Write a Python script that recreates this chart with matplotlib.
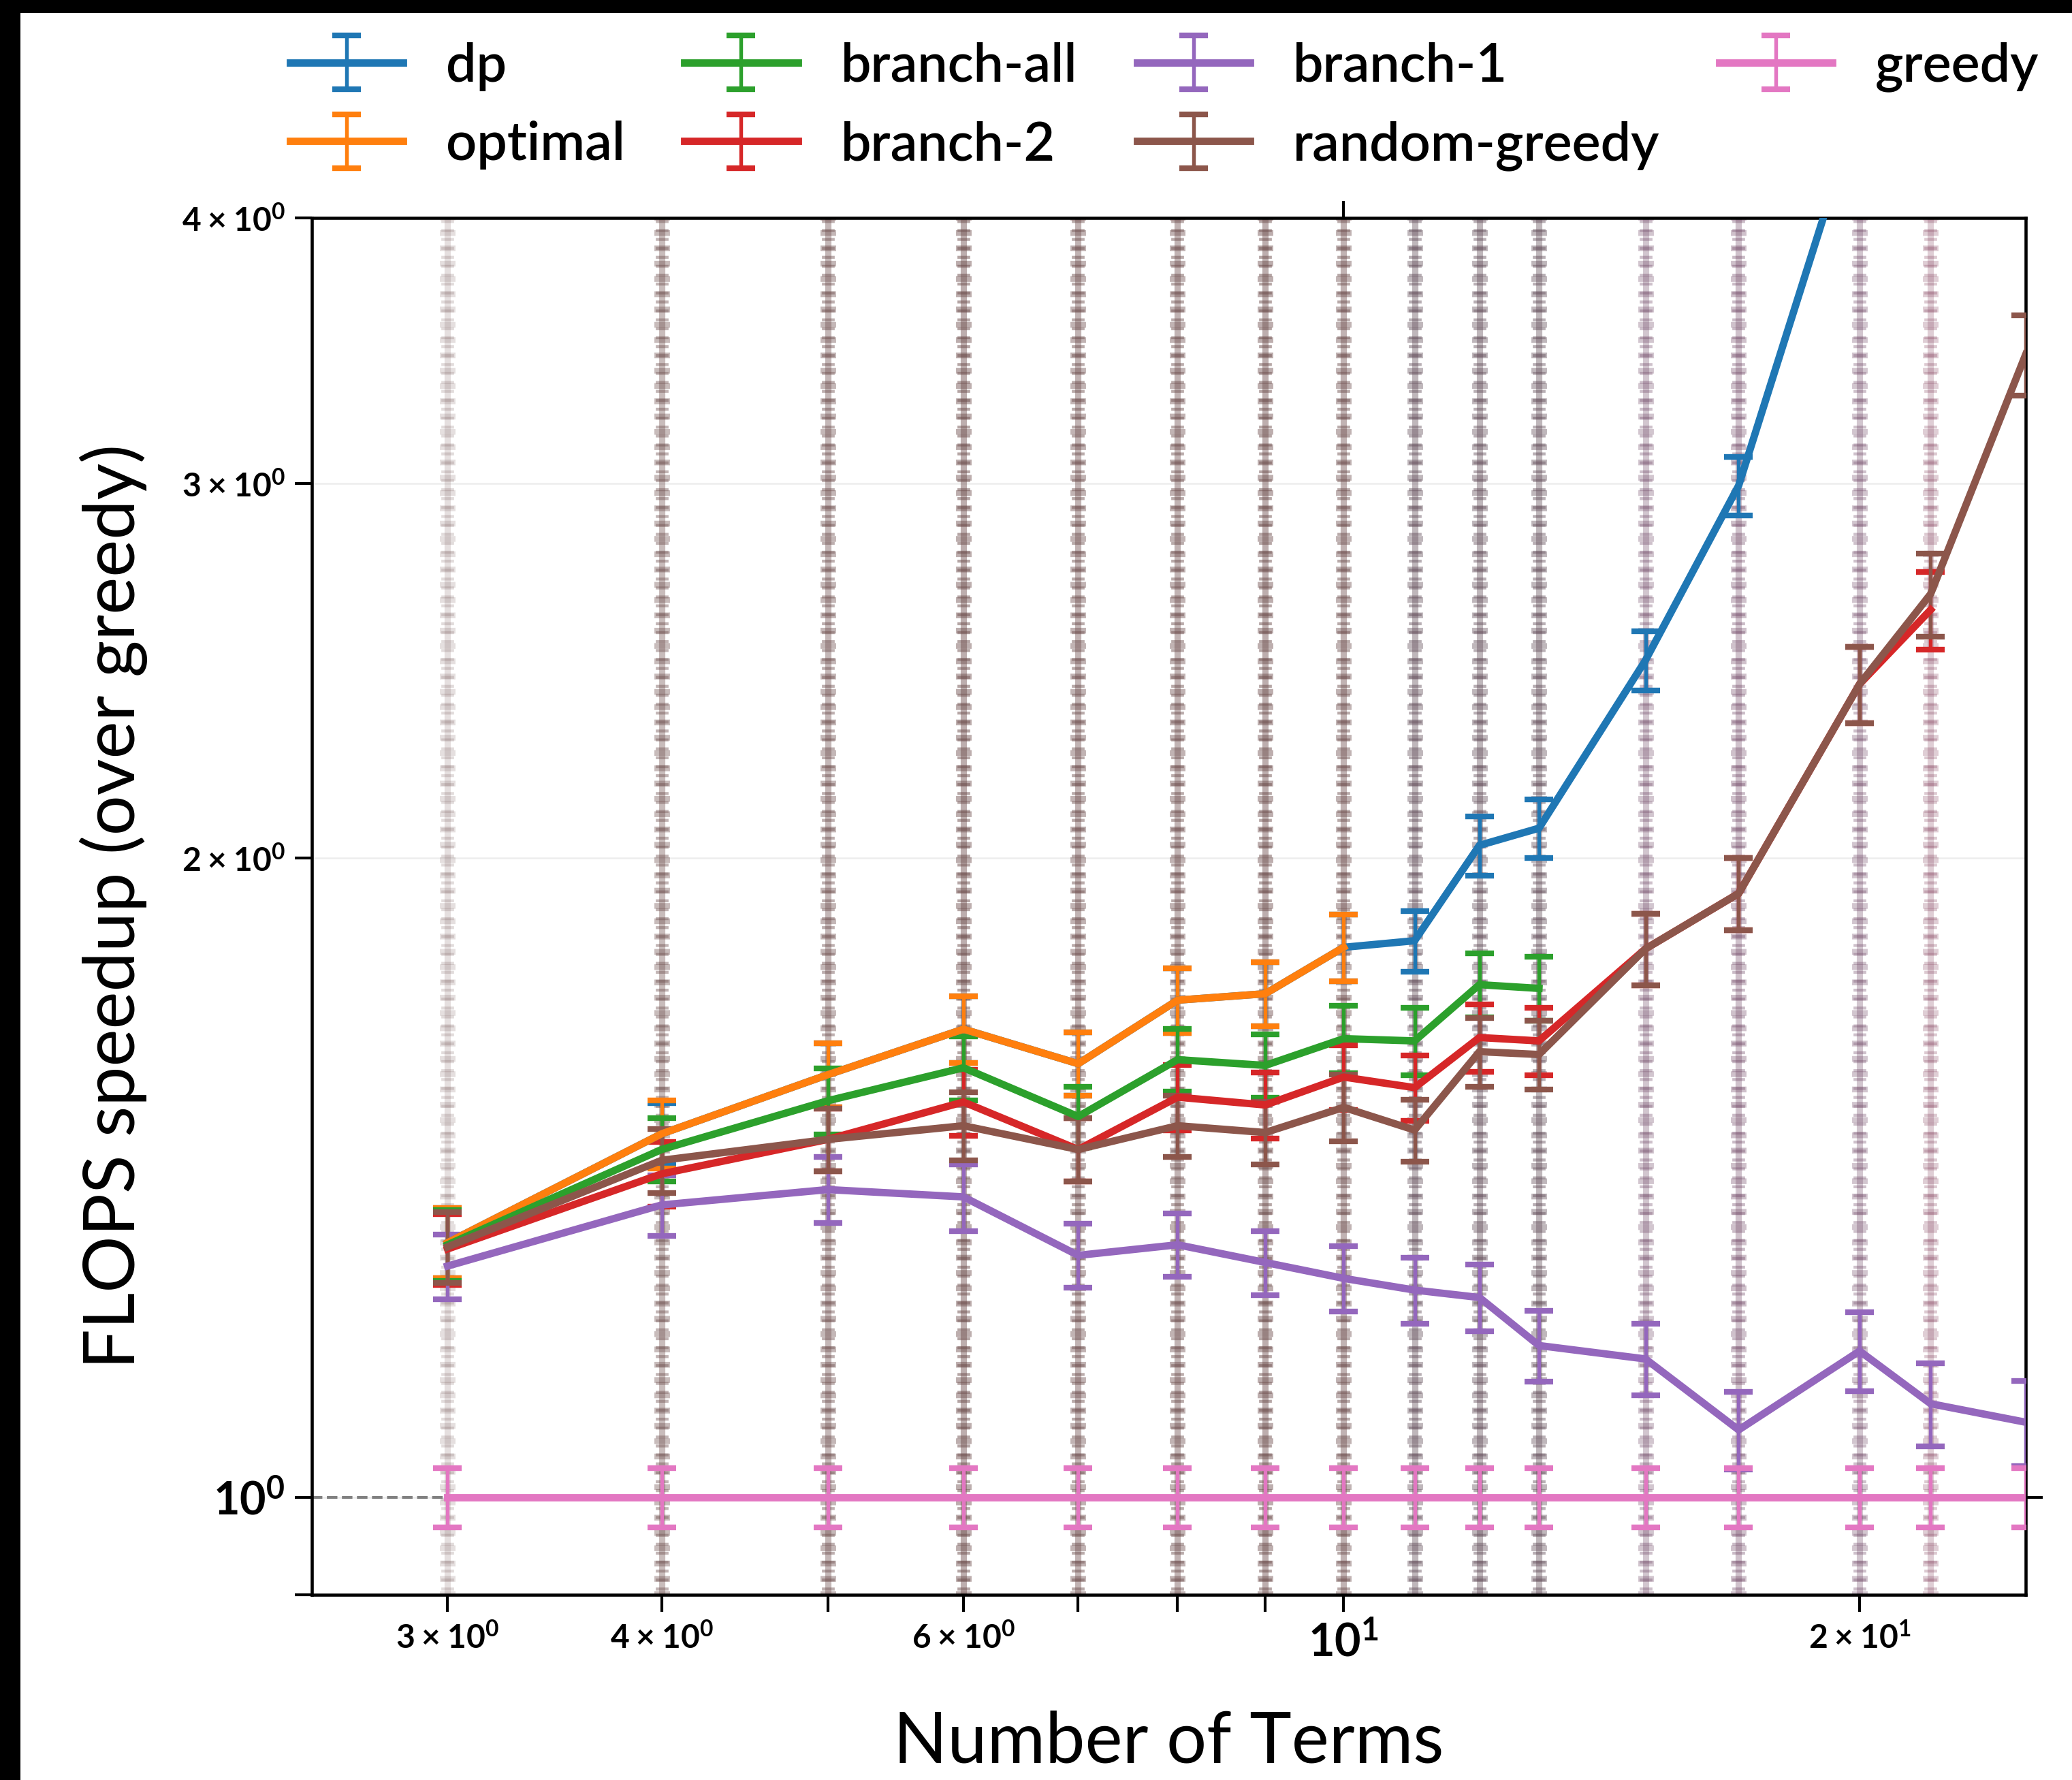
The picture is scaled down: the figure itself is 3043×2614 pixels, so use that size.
import numpy as np
import matplotlib
matplotlib.use("Agg")
import matplotlib.pyplot as plt
from matplotlib.patches import Rectangle
from matplotlib import colors as mcolors

plt.rcParams['font.family'] = ['Lato', 'DejaVu Sans']
plt.rcParams['font.weight'] = 'bold'

# number of terms (x positions)
terms = [3, 4, 5, 6, 7, 8, 9, 10, 11, 12, 13, 15, 17, 20, 22, 25]

# mean FLOPS speedup over greedy, None where the method was not run
dp = [1.318, 1.483, 1.581, 1.661, 1.600, 1.714, 1.726, 1.815, 1.828, 2.027, 2.065, 2.477, 2.993, 4.53, None, None]
optimal = [1.318, 1.483, 1.581, 1.661, 1.600, 1.714, 1.726, 1.815, None, None, None, None, None, None, None, None]
branch_all = [1.315, 1.458, 1.537, 1.593, 1.511, 1.607, 1.597, 1.644, 1.640, 1.743, 1.736, None, None, None, None, None]
branch_2 = [1.309, 1.420, 1.474, 1.535, 1.458, 1.543, 1.530, 1.577, 1.559, 1.646, 1.640, 1.812, 1.924, 2.414, 2.616, None]
branch_1 = [1.285, 1.373, 1.396, 1.385, 1.300, 1.315, 1.290, 1.268, 1.252, 1.242, 1.179, 1.162, 1.076, 1.172, 1.107, 1.085]
random_greedy = [1.312, 1.441, 1.474, 1.496, 1.458, 1.496, 1.485, 1.526, 1.489, 1.621, 1.616, 1.812, 1.924, 2.414, 2.661, 3.45]
greedy = [1.0] * 16

# error bar half widths
dp_err = [0.05, 0.05, 0.055, 0.06, 0.055, 0.06, 0.06, 0.065, 0.06, 0.065, 0.065, 0.08, 0.095, 0.14, None, None]
optimal_err = [0.05, 0.055, 0.055, 0.06, 0.055, 0.06, 0.06, 0.065, None, None, None, None, None, None, None, None]
branch_all_err = [0.05, 0.05, 0.055, 0.055, 0.05, 0.055, 0.055, 0.06, 0.06, 0.06, 0.06, None, None, None, None, None]
branch_2_err = [0.05, 0.05, 0.05, 0.055, 0.05, 0.055, 0.055, 0.055, 0.055, 0.06, 0.06, 0.07, 0.075, 0.1, 0.11, None]
branch_1_err = [0.045, 0.045, 0.05, 0.05, 0.045, 0.045, 0.045, 0.045, 0.045, 0.045, 0.045, 0.045, 0.045, 0.05, 0.05, 0.05]
random_greedy_err = [0.05, 0.05, 0.05, 0.055, 0.05, 0.05, 0.05, 0.055, 0.05, 0.06, 0.06, 0.07, 0.075, 0.1, 0.12, 0.15]
greedy_err = [0.032] * 16

# how dense the cloud of per-sample points looks at each x (0 = none)
strip_density = [0.35, 0.75, 0.8, 0.9, 0.85, 0.85, 0.9, 0.85, 0.8, 0.8, 0.8, 0.6, 0.65, 0.6, 0.5, 0.0]

labels = ['dp', 'optimal', 'branch-all', 'branch-2', 'branch-1', 'random-greedy', 'greedy']
series = [dp, optimal, branch_all, branch_2, branch_1, random_greedy, greedy]
errors = [dp_err, optimal_err, branch_all_err, branch_2_err, branch_1_err, random_greedy_err, greedy_err]
cols = ['C0', 'C1', 'C2', 'C3', 'C4', 'C5', 'C6']

W, H, DPI = 3043, 2614, 300
fig = plt.figure(figsize=(W / DPI, H / DPI), dpi=DPI, facecolor='black')
fig.add_artist(Rectangle((30 / W, 0), 1, 1 - 19 / H, transform=fig.transFigure,
                         facecolor='white', edgecolor='none', zorder=-1))
ax = fig.add_axes([458 / W, 1 - 2342 / H, (2975 - 458) / W, (2342 - 320) / H])
ax.set_xscale('log')
ax.set_yscale('log')

# sample clouds: blended colour of the methods present at each x
for i, x in enumerate(terms):
    if strip_density[i] <= 0:
        continue
    present = [mcolors.to_rgb(c) for s, c in zip(series, cols) if s[i] is not None]
    rgb = np.mean(present, axis=0) * 0.72
    d = strip_density[i]
    ax.vlines(x, 0.8, 4.5, colors=[rgb], linewidth=2.2, alpha=0.5 * d, zorder=1)
    ax.vlines(x, 0.8, 4.5, colors=[rgb], linewidth=5.5, alpha=0.5 * d,
              linestyles=[(0, (0.37, 0.61))], zorder=1)
    ax.vlines(x, 0.8, 4.5, colors=[rgb], linewidth=4.5, alpha=0.55 * d,
              linestyles=[(0.2, (0.23, 0.47))], zorder=1)

ax.axhline(1.0, color='grey', ls='--', lw=1, zorder=1.5)

for s, e, c, lab in zip(series, errors, cols, labels):
    xs = [x for x, v in zip(terms, s) if v is not None]
    ys = [v for v in s if v is not None]
    es = [v for v in e if v is not None]
    ax.errorbar(xs, ys, yerr=es, color=c, lw=2.6, elinewidth=1.3, capsize=5,
                capthick=2, label=lab, zorder=3)

ax.set_xlim(2.5, 25)
ax.set_ylim(0.9, 4)
ax.grid(True, which='both', axis='y', color='0.93', lw=0.6)
ax.set_axisbelow(True)

ax.tick_params(which='both', direction='out', width=1)
ax.tick_params(which='major', length=6, labelsize=16, top=True, right=True)
ax.tick_params(which='minor', length=6, labelsize=11.5)
for sp in ax.spines.values():
    sp.set_linewidth(1.1)

ax.set_xlabel('Number of Terms', fontsize=25, fontweight='normal', labelpad=16)
ax.set_ylabel('FLOPS speedup (over greedy)', fontsize=25, fontweight='normal', labelpad=12)

handles, labs = ax.get_legend_handles_labels()
fig.legend(handles, labs, loc='upper left', bbox_to_anchor=(386 / W, 1 - 22 / H),
           ncol=4, frameon=False, prop={'size': 19, 'weight': 'semibold'},
           handlelength=2.1, handletextpad=0.8, columnspacing=1.1,
           labelspacing=0.55, borderpad=0)

fig.savefig('out.png', dpi=DPI, facecolor=fig.get_facecolor())
